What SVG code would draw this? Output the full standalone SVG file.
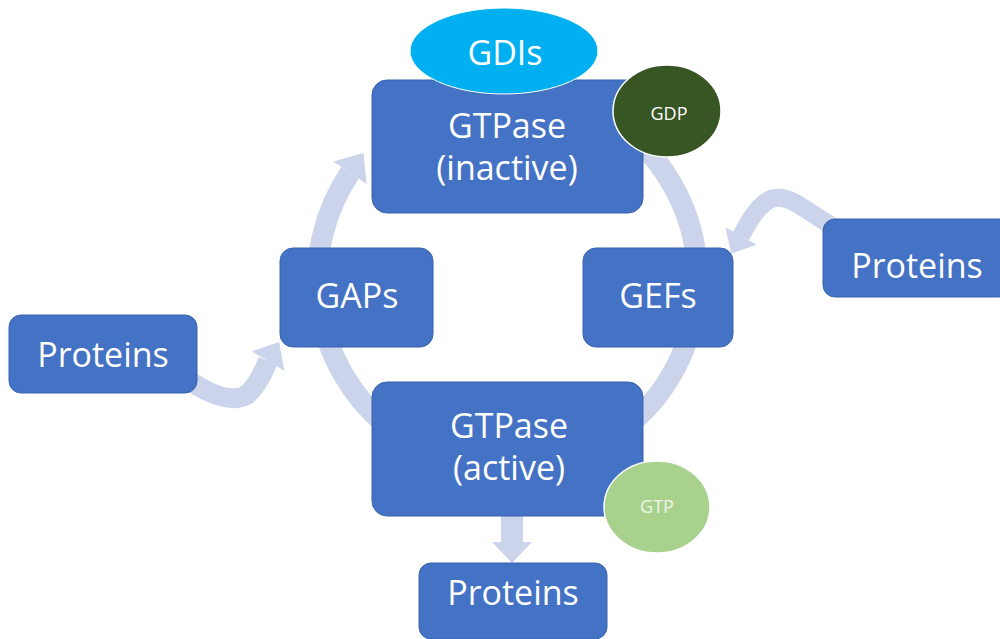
<svg xmlns="http://www.w3.org/2000/svg" width="1000" height="639" viewBox="0 0 1000 639">
  <defs>
    <style>
      .box { fill: #4472C4; stroke: #3A63AE; stroke-width: 1; }
      .lbl { font-family: "Open Sans", "Liberation Sans", sans-serif; font-size: 34px; fill: #FFFFFF; text-anchor: middle; }
      .small { font-family: "Open Sans", "Liberation Sans", sans-serif; font-size: 18px; text-anchor: middle; }
      .band { fill: none; stroke: #CBD4EA; }
      .head { fill: #CBD4EA; }
    </style>
  </defs>
  <rect width="1000" height="639" fill="#FFFFFF"/>

  <!-- connectors: cycle ring and incoming/outgoing arrows -->
  <g id="connectors">
    <!-- left half of the cycle: active -> inactive -->
    <path class="band" stroke-width="21" d="M 385.4 424.5 A 190 190 0 0 1 350.0 172.8"/>
    <polygon class="head" points="333.4,161.6 363.4,152.9 366.6,184.0"/>
    <!-- right half of the cycle: inactive -> active -->
    <path class="band" stroke-width="21" d="M 616.5 123.4 A 190 190 0 0 1 629.6 424.5"/>
    <!-- left Proteins -> GAPs -->
    <path class="band" stroke-width="20" d="M 185 378 Q 225 405 245 396 Q 257 388 268 361"/>
    <polygon class="head" points="251.7,351.3 279.2,342.1 284.3,370.7"/>
    <!-- right Proteins -> GEFs -->
    <path class="band" stroke-width="18" d="M 835 228 C 805 210, 790 195, 775 198 C 762 200, 752 215, 741 236"/>
    <polygon class="head" points="725.3,227.2 731.2,253.4 756.7,244.8"/>
    <!-- active GTPase -> downstream Proteins -->
    <rect x="501" y="510" width="22" height="33" fill="#CBD4EA"/>
    <polygon class="head" points="492,542 532,542 512,563"/>
  </g>

  <g id="gtpase-inactive">
    <rect class="box" x="372" y="80" width="271" height="133" rx="15"/>
    <text class="lbl" x="507" y="138">GTPase</text>
    <text class="lbl" x="507" y="180">(inactive)</text>
  </g>

  <g id="gdis">
    <ellipse cx="504" cy="51" rx="94" ry="43" fill="#00B0F0" stroke="#FFFFFF" stroke-width="1"/>
    <text class="lbl" x="505" y="65">GDIs</text>
  </g>

  <g id="gdp">
    <ellipse cx="667" cy="111" rx="54" ry="46" fill="#375623" stroke="#FFFFFF" stroke-width="1.5"/>
    <text class="small" x="669" y="120" fill="#FFFFFF">GDP</text>
  </g>

  <g id="gaps">
    <rect class="box" x="280" y="248" width="153" height="99" rx="13"/>
    <text class="lbl" x="357" y="308">GAPs</text>
  </g>

  <g id="gefs">
    <rect class="box" x="583" y="248" width="150" height="99" rx="13"/>
    <text class="lbl" x="658" y="308">GEFs</text>
  </g>

  <g id="proteins-left">
    <rect class="box" x="9" y="315" width="188" height="78" rx="12"/>
    <text class="lbl" x="103" y="367">Proteins</text>
  </g>

  <g id="proteins-right">
    <rect class="box" x="823" y="219" width="188" height="78" rx="12"/>
    <text class="lbl" x="917" y="278">Proteins</text>
  </g>

  <g id="gtpase-active">
    <rect class="box" x="372" y="382" width="271" height="134" rx="15"/>
    <text class="lbl" x="509" y="438">GTPase</text>
    <text class="lbl" x="509" y="480">(active)</text>
  </g>

  <g id="gtp">
    <ellipse cx="657" cy="507" rx="53" ry="46" fill="#A9D18E" stroke="#FFFFFF" stroke-width="1.5"/>
    <text class="small" x="657" y="513" fill="#EEF5E8">GTP</text>
  </g>

  <g id="proteins-bottom">
    <rect class="box" x="419" y="563" width="188" height="76" rx="12"/>
    <text class="lbl" x="513" y="605">Proteins</text>
  </g>
</svg>
